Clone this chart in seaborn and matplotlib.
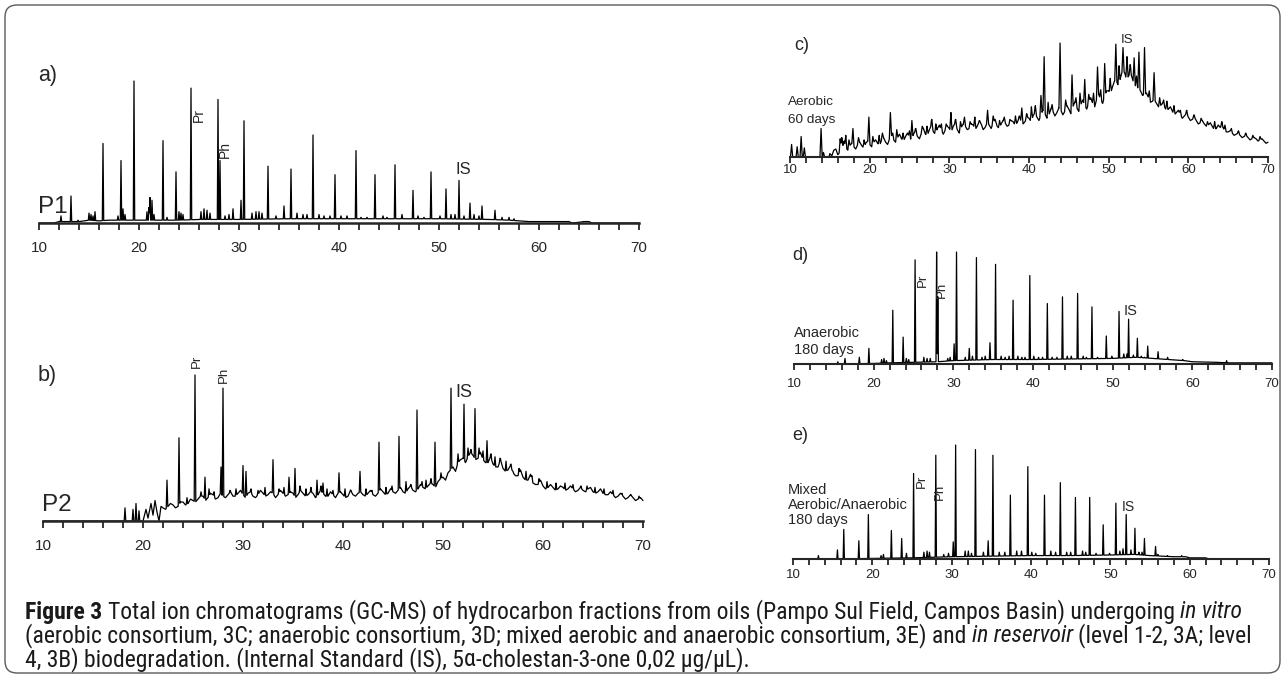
import numpy as np
import pandas as pd
import seaborn as sns
import matplotlib
matplotlib.use("Agg")
import matplotlib.pyplot as plt
from matplotlib.patches import FancyBboxPatch
from matplotlib import font_manager
from matplotlib.font_manager import FontProperties

# ---------------- DATA (retention time [min], relative intensity) ----------------
# Panel a) P1
a_base_t = [10, 11.5, 12, 14, 15, 16, 17, 18, 20, 22, 24, 26, 28, 30, 35, 40, 45, 50, 55, 57, 58, 59, 63, 63.3, 64, 64.5, 65, 65.3, 70]
a_base_i = [0, 0, 1, 1, 2, 1.5, 2, 2, 2, 2, 2, 2.5, 2.5, 2.5, 3, 3, 3, 3, 2.5, 2, 1.5, 1, 1, 0, 0.5, 1, 1, 0, 0]
a_peak_t = [13.2, 16.4, 18.2, 19.5, 22.4, 23.7, 25.2, 27.9, 28.1, 30.5, 32.9, 35.2, 37.4, 39.6, 41.7, 43.6, 45.6, 47.4, 49.2, 50.7, 52.0, 53.1, 54.3, 55.6,
            12.2, 13.9, 15.0, 15.2, 15.4, 15.6, 17.9, 18.4, 18.6, 20.8, 21.0, 21.1, 21.3, 21.5, 22.8, 24.0, 24.2, 24.4, 26.2, 26.5, 26.8, 27.1, 28.6, 29.0,
            29.4, 30.2, 31.3, 31.7, 32.0, 32.3, 33.7, 34.5, 35.8, 36.4, 36.8, 38.0, 38.5, 39.1, 40.2, 40.8, 42.2, 42.8, 44.4, 44.8, 46.3, 47.9, 48.5, 50.1,
            51.2, 51.6, 52.5, 53.5, 54.0, 56.3, 57.0, 57.5]
a_peak_i = [19, 56, 44, 100, 58, 36, 95, 87, 44, 72, 40, 38, 62, 34, 51, 34, 41, 23, 36, 24, 30, 14, 12, 9,
            5, 2, 7, 6, 5, 8, 5, 10, 6, 8, 11, 18, 16, 6, 4, 8, 7, 6, 8, 10, 9, 7, 5, 6,
            10, 16, 7, 8, 8, 7, 5, 12, 7, 6, 6, 6, 5, 5, 5, 5, 4, 4, 5, 4, 6, 5, 4, 5,
            6, 6, 5, 6, 5, 4, 4, 3]

# Panel b) P2
b_base_t = [10, 18.0, 20.0, 20.3, 20.5, 20.8, 21.0, 21.2, 21.4, 21.6, 21.8, 22.0, 22.5, 23.0, 23.5, 24.0, 24.5, 25.0, 25.5, 26.0, 26.5, 27.0, 27.5,
            28.0, 28.5, 29.0, 29.5, 30.0, 30.5, 31.0, 31.5, 32.0, 32.5, 33.0, 33.5, 34.0, 34.5, 35.0, 35.5, 36.0, 36.5, 37.0, 37.5, 38.0, 38.5,
            39.0, 39.5, 40.0, 40.5, 41.0, 41.5, 42.0, 42.5, 43.0, 43.5, 44.0, 44.5, 45.0, 45.5, 46.0, 46.5, 47.0, 47.5, 48.0, 48.5, 49.0, 49.5,
            50.0, 50.5, 51.0, 51.5, 52.0, 52.5, 53.0, 53.5, 54.0, 54.5, 55.0, 55.5, 56.0, 56.5, 57.0, 57.5, 58.0, 58.5, 59.0, 59.5, 60.0, 60.5,
            61.0, 61.5, 62.0, 62.5, 63.0, 63.5, 64.0, 64.5, 65.0, 65.5, 66.0, 66.5, 67.0, 67.5, 68.0, 68.5, 69.0, 69.5, 70.0]
b_base_i = [0, 0, 0, 8, 2, 12, 4, 14, 6, 0, 10, 9, 10, 11, 10, 13, 12, 14, 15, 17, 16, 18, 16,
            17, 18, 17, 19, 18, 19, 17, 18, 19, 18, 19, 18, 19, 18, 19, 18, 19, 18, 19, 18, 19, 17,
            18, 19, 18, 17, 18, 19, 18, 19, 18, 19, 20, 19, 20, 21, 20, 22, 21, 22, 23, 24, 25, 27,
            30, 33, 37, 40, 43, 44, 45, 43, 42, 40, 39, 37, 36, 35, 33, 31, 30, 28, 26, 25, 24, 23,
            23, 22, 23, 22, 22, 21, 21, 22, 20, 20, 19, 18, 18, 17, 17, 16, 16, 15, 14]
# intermediate baseline readings at 22.25, 22.75, ... 69.75 (jagged band)
b_mid_i = [8, 12, 9, 13, 11, 15, 13, 17, 14, 19,
           15, 19, 16, 20, 17, 21, 16, 20, 16, 21,
           17, 20, 16, 21, 17, 20, 16, 21, 17, 20,
           16, 21, 17, 20, 16, 20, 16, 21, 17, 20,
           17, 21, 17, 22, 18, 22, 19, 23, 19, 24,
           20, 25, 22, 26, 23, 29, 28, 35, 34, 42,
           40, 47, 42, 47, 40, 44, 37, 42, 34, 38,
           31, 35, 28, 32, 25, 28, 22, 25, 21, 24,
           21, 24, 20, 23, 20, 23, 19, 22, 18, 20,
           16, 19, 15, 18, 14, 16]
b_mid_t = [22.25 + 0.5 * k for k in range(len(b_mid_i))]
b_peak_t = [18.2, 19.0, 19.3, 19.6, 22.4, 23.6, 25.2, 26.2, 27.8, 28.0, 30.0, 30.3, 33.0, 34.6, 35.2, 37.4, 38.0, 39.6, 41.7, 43.6, 45.6, 47.4,
            49.2, 50.8, 52.1, 53.2, 54.4, 55.7, 57.0, 64.4,
            24.4, 25.8, 26.6, 27.1, 28.7, 29.3, 30.8, 31.5, 32.2, 33.6, 34.1, 35.7, 36.3, 36.8, 37.8, 38.4, 39.0, 40.2, 40.8, 42.3, 42.9, 44.3,
            44.9, 46.3, 46.8, 47.9, 48.3, 48.8, 49.8, 51.5, 52.5, 52.8, 53.6, 54.0, 54.8, 55.2, 56.3, 56.8, 57.6, 58.3, 58.9, 59.6, 60.4, 61.3,
            62.2, 63.0, 63.8, 65.2, 66.1, 67.0, 67.9, 68.8, 69.6]
b_peak_i = [9, 8, 12, 7, 28, 57, 100, 30, 37, 91, 38, 34, 42, 30, 36, 28, 26, 33, 34, 54, 58, 76,
            54, 91, 80, 77, 55, 43, 34, 24,
            16, 20, 22, 20, 21, 22, 22, 21, 23, 22, 23, 24, 22, 23, 24, 22, 21, 22, 21, 22, 21, 23,
            24, 27, 25, 27, 28, 29, 33, 46, 50, 49, 50, 48, 46, 44, 41, 39, 36, 34, 31, 29, 27, 26,
            26, 25, 24, 23, 22, 21, 19, 18, 17]

# Panel c) Aerobic 60 days
c_base_t = [10, 14.9] + [15.0 + 0.5 * k for k in range(111)]
c_base_i = [0, 0,
            3, 6, 2, 9, 8, 10, 9, 11, 10, 12, 11, 13, 12, 15, 13, 16, 15, 17, 16, 18, 17, 20, 18, 21, 20, 24, 22, 25, 23, 24,
            25, 27, 24, 26, 27, 25, 28, 27, 29, 26, 28, 30, 27, 29, 30, 28, 31, 30, 32, 31, 34, 36, 35, 37, 38, 37, 40, 39,
            41, 40, 42, 44, 43, 46, 45, 48, 47, 51, 50, 54, 58, 62, 66, 70, 74, 71, 68, 62, 58, 55, 52, 49, 47, 45, 44, 42,
            40, 39, 37, 36, 35, 33, 32, 30, 29, 28, 27, 25, 26, 24, 22, 21, 20, 19, 18, 17, 16, 16, 15, 14, 13]
# intermediate baseline readings at 15.25, 15.75, ... 69.75 (jagged band)
c_mid_i = [1, 7, 4, 11, 6, 12, 7, 13, 8, 14,
           9, 15, 10, 17, 11, 19, 13, 20, 14, 21,
           15, 23, 16, 25, 19, 28, 20, 28, 20, 27,
           22, 30, 21, 29, 24, 29, 24, 31, 24, 30,
           25, 33, 25, 32, 27, 32, 28, 34, 29, 35,
           31, 39, 32, 41, 34, 42, 36, 43, 37, 45,
           38, 48, 40, 50, 42, 52, 44, 55, 47, 58,
           56, 67, 62, 76, 68, 74, 63, 60, 54, 56,
           48, 50, 44, 47, 41, 44, 37, 41, 34, 38,
           32, 35, 29, 32, 27, 30, 24, 28, 27, 22,
           23, 19, 21, 17, 19, 15, 17, 14, 16, 12]
c_mid_t = [15.25 + 0.5 * k for k in range(len(c_mid_i))]
c_peak_t = [10.2, 10.9, 11.4, 11.8, 13.9, 14.2, 16.5, 17.0, 17.9, 19.9, 22.6, 25.3, 30.2, 34.8, 39.1, 41.5, 41.9, 43.9, 45.4, 47.0, 48.6,
            49.5, 50.9, 51.8, 53.2, 53.8, 54.5, 55.7, 56.9,
            16.3, 16.8, 17.4, 18.6, 19.3, 20.4, 21.2, 21.6, 22.9, 23.4, 24.2, 25.0, 25.8, 26.6, 27.2, 27.8, 28.3, 29.0, 29.6, 30.8, 31.4,
            31.9, 32.6, 33.2, 33.8, 35.5, 36.3, 36.9, 37.6, 38.3, 38.8, 39.7, 40.3, 40.8, 42.4, 42.9, 44.6, 45.9, 46.4, 47.5, 48.1, 49.0,
            50.2, 51.3, 52.3, 52.7, 53.5, 55.1, 56.4, 57.3, 58.2, 59.0, 59.8, 60.7, 61.6, 62.4, 63.3, 64.2, 64.6, 65.4, 66.3, 67.2, 68.1, 69.0]
c_peak_i = [11, 9, 18, 8, 25, 4, 17, 19, 25, 35, 39, 32, 39, 41, 43, 54, 88, 100, 72, 68, 79,
            82, 99, 96, 87, 92, 96, 74, 50,
            16, 14, 15, 17, 15, 18, 19, 21, 21, 24, 21, 23, 25, 27, 27, 33, 29, 29, 29, 33, 31,
            35, 31, 35, 32, 36, 32, 35, 33, 36, 36, 38, 44, 45, 48, 46, 50, 52, 56, 55, 56, 59,
            69, 80, 88, 81, 71, 58, 52, 49, 45, 41, 41, 37, 34, 31, 31, 31, 28, 25, 23, 21, 19, 18]

# Panel d) Anaerobic 180 days
d_base_t = [10, 15, 20, 22, 25, 28, 30, 35, 40, 45, 50, 53, 55, 57, 59, 60, 63, 64.6, 70]
d_base_i = [0, 0, 0.5, 1, 1.5, 2, 3, 4, 4, 4.5, 5, 6, 5, 4, 3, 2, 1.5, 1, 1]
d_peak_t = [22.4, 23.7, 25.2, 27.9, 28.05, 30.4, 32.9, 35.3, 37.5, 39.6, 41.8, 43.7, 45.6, 47.4, 49.2, 50.8, 52.0, 53.1, 54.4,
            15.5, 16.4, 18.2, 19.4, 21.0, 21.3, 21.6, 24.1, 24.4, 26.3, 26.7, 27.1, 29.3, 29.6, 30.1, 31.5, 32.0, 32.4, 33.6, 34.0,
            34.6, 36.0, 36.5, 37.0, 38.1, 38.6, 39.0, 40.1, 40.7, 41.2, 42.4, 43.0, 44.3, 44.8, 46.3, 46.7, 48.1, 48.6, 49.9, 51.4,
            51.8, 52.6, 53.6, 54.0, 55.7, 56.9, 58.8, 64.3]
d_peak_i = [48, 24, 93, 100, 60, 100, 95, 89, 57, 79, 54, 60, 63, 51, 25, 47, 40, 23, 16,
            2, 5, 6, 14, 4, 5, 3, 5, 4, 6, 5, 5, 5, 6, 18, 6, 14, 7, 6, 7,
            19, 7, 6, 7, 7, 6, 6, 7, 6, 6, 6, 6, 7, 7, 7, 6, 6, 5, 7, 9,
            9, 8, 7, 6, 11, 6, 4, 3]

# Panel e) Mixed aerobic/anaerobic 180 days
e_base_t = [10, 15, 20, 25, 30, 35, 40, 45, 50, 53, 55, 58, 59.5, 60, 62, 62.5, 70]
e_base_i = [0, 0, 0.5, 1, 2, 2.5, 3, 3, 3.5, 4, 3, 2, 2, 1, 1, 0, 0]
e_peak_t = [16.4, 19.5, 22.4, 23.7, 25.2, 28.0, 30.5, 33.0, 35.2, 37.4, 39.6, 41.7, 43.7, 45.6, 47.4, 49.1, 50.7, 52.0, 53.1, 54.3, 55.7,
            13.2, 15.6, 18.3, 21.1, 21.4, 24.3, 26.5, 26.9, 27.2, 29.0, 29.6, 30.2, 31.7, 32.1, 32.5, 34.0, 34.6, 36.0, 36.7, 38.2,
            38.8, 40.1, 40.6, 42.5, 43.1, 44.5, 45.0, 46.5, 46.9, 48.2, 49.9, 51.2, 51.6, 52.6, 53.6, 54.0, 56.0, 57.2, 59.0]
e_peak_i = [26, 39, 25, 18, 75, 91, 100, 96, 91, 56, 81, 56, 67, 54, 54, 30, 49, 39, 27, 18, 11,
            3, 8, 16, 3, 4, 5, 6, 7, 6, 4, 5, 15, 7, 7, 5, 6, 16, 6, 6, 7,
            7, 6, 5, 7, 6, 6, 6, 7, 6, 5, 5, 7, 9, 8, 6, 6, 4, 3, 3]

x_ticks = [10, 20, 30, 40, 50, 60, 70]
caption_lines = [
    [("Figure 3", "bold", "normal", True),
     ("Total ion chromatograms (GC-MS) of hydrocarbon fractions from oils (Pampo Sul Field, Campos Basin) undergoing", "normal", "normal", True),
     ("in vitro", "normal", "italic", False)],
    [("(aerobic consortium, 3C; anaerobic consortium, 3D; mixed aerobic and anaerobic consortium, 3E) and", "normal", "normal", True),
     ("in reservoir", "normal", "italic", True),
     ("(level 1-2, 3A; level", "normal", "normal", False)],
    [("4, 3B) biodegradation. (Internal Standard (IS), 5", "normal", "normal", False),
     ("α", "normal", "normal", False),
     ("-cholestan-3-one 0,02 µg/µL).", "normal", "normal", False)],
]

# ---------------- STYLE ----------------
sns.set_style("white")
plt.rcParams["font.family"] = ["Liberation Sans", "DejaVu Sans"]

fnames = [f.fname for f in font_manager.fontManager.ttflist]


def find_face(cands):
    for c in cands:
        for fn in fnames:
            if fn.split("/")[-1].lower() == c.lower():
                return fn
    return None


cond_sets = [
    ("LiberationSansNarrow-Regular.ttf", "LiberationSansNarrow-Bold.ttf", "LiberationSansNarrow-Italic.ttf"),
    ("RobotoCondensed-Regular.ttf", "RobotoCondensed-Bold.ttf", "RobotoCondensed-Italic.ttf"),
    ("NotoSans-Condensed.ttf", "NotoSans-CondensedBold.ttf", "NotoSans-CondensedItalic.ttf"),
    ("DejaVuSansCondensed.ttf", "DejaVuSansCondensed-Bold.ttf", "DejaVuSansCondensed-Oblique.ttf"),
]
cap_fp = None
for reg, bold, ita in cond_sets:
    r, b, i = find_face([reg]), find_face([bold]), find_face([ita])
    if r and b and i:
        cap_fp = {"normal": r, "bold": b, "italic": i}
        break


def cap_props(weight, style, size):
    if cap_fp is not None:
        key = "bold" if weight == "bold" else ("italic" if style == "italic" else "normal")
        return FontProperties(fname=cap_fp[key], size=size)
    return FontProperties(family=["Liberation Sans", "DejaVu Sans"], weight=weight, style=style, size=size)


W, H = 1285, 679
fig = plt.figure(figsize=(W / 100, H / 100), dpi=100)
fig.patch.set_facecolor("white")

ov = fig.add_axes([0, 0, 1, 1], zorder=-1)
ov.set_xlim(0, W)
ov.set_ylim(H, 0)
ov.axis("off")
ov.add_patch(FancyBboxPatch((5, 5), 1275, 668, boxstyle="round,pad=0,rounding_size=12",
                            fc="none", ec="#5a5a5a", lw=1.0))


def build_trace(bt, bv, pt, pv, w):
    bt = np.asarray(bt, float); bv = np.asarray(bv, float)
    o = np.argsort(bt, kind="stable")
    bt, bv = bt[o], bv[o]
    pt = np.asarray(pt, float); pv = np.asarray(pv, float)
    xs = np.unique(np.concatenate([bt, pt, pt - w, pt + w]))
    xs = xs[(xs >= 10) & (xs <= 70)]
    base = np.interp(xs, bt, bv)
    hk = pv - np.interp(pt, bt, bv)
    contrib = np.clip(1 - np.abs(xs[:, None] - pt[None, :]) / w, 0, None) * hk[None, :]
    y = base + np.maximum(contrib.max(axis=1), 0)
    return pd.DataFrame({"t": xs, "I": y})


def panel(left, right, bottom, top, df, tsize, tlen, pad, spw):
    ax = fig.add_axes([left / W, 1 - bottom / H, (right - left) / W, (bottom - top) / H])
    sns.lineplot(data=df, x="t", y="I", ax=ax, color="black", lw=0.9, estimator=None, sort=False)
    ax.set_xlim(10, 70)
    ax.set_ylim(0, 100)
    for s in ["top", "right", "left"]:
        ax.spines[s].set_visible(False)
    ax.spines["bottom"].set_linewidth(spw)
    ax.spines["bottom"].set_zorder(5)
    ax.set_xticks(x_ticks)
    ax.set_xticks(list(range(10, 71, 2)), minor=True)
    ax.set_xticklabels([str(v) for v in x_ticks])
    ax.tick_params(axis="x", which="both", direction="out", length=tlen, width=1.1, pad=pad,
                   labelsize=tsize, bottom=True, color="black")
    ax.set_yticks([])
    ax.set_xlabel("")
    ax.set_ylabel("")
    ax.patch.set_alpha(0)
    for ln in ax.lines:
        ln.set_clip_on(False)
    return ax


axa = panel(39, 639, 223, 81, build_trace(a_base_t, a_base_i, a_peak_t, a_peak_i, 0.07), 11, 5, 8, 1.8)
axb = panel(43, 643, 521, 375, build_trace(b_base_t + b_mid_t, b_base_i + b_mid_i, b_peak_t, b_peak_i, 0.08), 11, 5, 8, 1.8)
axc = panel(790, 1268, 157, 43, build_trace(c_base_t + c_mid_t, c_base_i + c_mid_i, c_peak_t, c_peak_i, 0.14), 9.5, 4, 1, 1.5)
axd = panel(794, 1272, 364, 252, build_trace(d_base_t, d_base_i, d_peak_t, d_peak_i, 0.08), 9.5, 4, 6, 1.5)
axe = panel(793, 1269, 559, 445, build_trace(e_base_t, e_base_i, e_peak_t, e_peak_i, 0.08), 9.5, 4, 3, 1.5)


def lab(ax, x, y, s, size, rot=0):
    ax.text(x, y, s, rotation=rot, ha="center", va="center", fontsize=size, clip_on=False)


lab(axa, 26.0, 76, "Pr", 10, 90); lab(axa, 28.6, 52, "Ph", 10, 90); lab(axa, 52.4, 38, "IS", 12)
lab(axb, 25.4, 109, "Pr", 9.5, 90); lab(axb, 28.1, 100, "Ph", 9.5, 90); lab(axb, 52.1, 88, "IS", 13)
lab(axc, 52.3, 103, "IS", 9.5)
lab(axd, 26.2, 75, "Pr", 9.5, 90); lab(axd, 28.5, 66, "Ph", 9.5, 90); lab(axd, 52.2, 47, "IS", 10.5)
lab(axe, 26.2, 68, "Pr", 9.5, 90); lab(axe, 28.5, 59, "Ph", 9.5, 90); lab(axe, 52.3, 46, "IS", 10)

ov.text(38, 75, "a)", fontsize=15.5, va="center", ha="left")
ov.text(38, 207, "P1", fontsize=17.5, va="center", ha="left")
ov.text(38, 375, "b)", fontsize=15.5, va="center", ha="left")
ov.text(42, 505, "P2", fontsize=17.5, va="center", ha="left")
ov.text(794, 45, "c)", fontsize=13, va="center", ha="left")
ov.text(792, 255, "d)", fontsize=13, va="center", ha="left")
ov.text(792, 435, "e)", fontsize=13, va="center", ha="left")
ov.text(788, 102, "Aerobic", fontsize=9.7, va="center", ha="left")
ov.text(788, 120, "60 days", fontsize=9.7, va="center", ha="left")
ov.text(794, 333, "Anaerobic", fontsize=10.5, va="center", ha="left")
ov.text(794, 350, "180 days", fontsize=10.5, va="center", ha="left")
ov.text(788, 490, "Mixed", fontsize=10.5, va="center", ha="left")
ov.text(788, 505, "Aerobic/Anaerobic", fontsize=10.5, va="center", ha="left")
ov.text(788, 520, "180 days", fontsize=10.5, va="center", ha="left")

renderer = fig.canvas.get_renderer()


def text_w(s, size, weight="normal", style="normal"):
    t = ov.text(0, 0, s, fontproperties=cap_props(weight, style, size))
    w = t.get_window_extent(renderer=renderer).width
    t.remove()
    return w


def space_w(size):
    return text_w("x x", size) - text_w("xx", size)


def line_width(parts, size):
    tot = 0
    for s, wt, st, space in parts:
        tot += text_w(s, size, wt, st) + (space_w(size) if space else 0)
    return tot


ref = 10.0
cap_size = min(ref * 1237 / line_width(caption_lines[0], ref),
               ref * 1220 / line_width(caption_lines[1], ref))
cap_y = [612, 636, 660]
for parts, yy in zip(caption_lines, cap_y):
    x = 25
    sp = space_w(cap_size)
    for s, wt, st, space in parts:
        ov.text(x, yy, s, fontproperties=cap_props(wt, st, cap_size),
                va="center", ha="left", color="#1a1a1a")
        x += text_w(s, cap_size, wt, st) + (sp if space else 0)

fig.savefig("out.png", dpi=100)
